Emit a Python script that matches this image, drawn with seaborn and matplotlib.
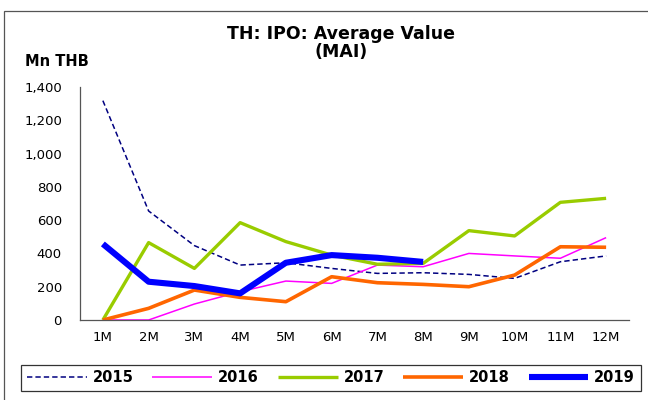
import numpy as np
import pandas as pd
import seaborn as sns
import matplotlib.pyplot as plt
from matplotlib.patches import Rectangle
from matplotlib.ticker import FuncFormatter

# Dane (Mn THB, średnia wartość IPO na MAI)
months = ["1M", "2M", "3M", "4M", "5M", "6M", "7M", "8M", "9M", "10M", "11M", "12M"]
v2015 = [1318, 655, 447, 330, 344, 310, 280, 284, 274, 250, 350, 385]
v2016 = [0, 0, 96, 170, 234, 220, 330, 320, 400, 385, 371, 495]
v2017 = [0, 465, 310, 585, 471, 390, 335, 340, 537, 505, 707, 731]
v2018 = [0, 70, 180, 136, 110, 260, 224, 214, 200, 270, 440, 437]
v2019 = [457, 230, 204, 160, 344, 390, 374, 349]

series = {"2015": v2015, "2016": v2016, "2017": v2017, "2018": v2018, "2019": v2019}
styles = {
    "2015": dict(color="#000080", lw=1.1, ls=(0, (3.5, 2))),
    "2016": dict(color="#FF00FF", lw=1.1, ls="-"),
    "2017": dict(color="#99CC00", lw=2.4, ls="-"),
    "2018": dict(color="#FF6600", lw=2.6, ls="-"),
    "2019": dict(color="#0000FF", lw=4.4, ls="-"),
}

rows = []
for year, vals in series.items():
    for i, v in enumerate(vals):
        rows.append({"year": year, "idx": i, "value": v})
df = pd.DataFrame(rows)

sns.set_style("white")
plt.rcParams["font.family"] = ["DejaVu Sans"]
plt.rcParams["text.color"] = "black"
plt.rcParams["xtick.color"] = "black"
plt.rcParams["ytick.color"] = "black"

fig = plt.figure(figsize=(6.48, 4.0), dpi=100)
ax = fig.add_axes([80 / 648, 1 - 320 / 400, (629 - 80) / 648, (320 - 87) / 400])

for year in series:
    st = styles[year]
    sub = df[df["year"] == year]
    sns.lineplot(data=sub, x="idx", y="value", ax=ax, color=st["color"],
                 linewidth=st["lw"], linestyle=st["ls"], label=year,
                 errorbar=None, solid_capstyle="butt")

ax.set_xlim(-0.5, 11.5)
ax.set_ylim(0, 1400)
ax.set_yticks(np.arange(0, 1401, 200))
ax.yaxis.set_major_formatter(FuncFormatter(lambda v, p: f"{int(v):,}"))
ax.set_xticks(np.arange(-0.5, 11.6, 1.0))
ax.set_xticklabels([])
ax.set_xticks(np.arange(12), labels=months, minor=True)
ax.tick_params(axis="x", which="major", direction="out", length=5, width=0.8, color="#555555")
ax.tick_params(axis="x", which="minor", length=0, labelsize=9.5, pad=8, labelcolor="black")
ax.tick_params(axis="y", direction="out", length=5, width=0.8, color="#555555", labelsize=9.5,
               pad=8, labelcolor="black")
ax.set_xlabel("")
ax.set_ylabel("")
for s in ["top", "right"]:
    ax.spines[s].set_visible(False)
for s in ["left", "bottom"]:
    ax.spines[s].set_color("#555555")
    ax.spines[s].set_linewidth(0.9)

# Tytuł i jednostka
fig.text(0.527, 1 - 43 / 400, "TH: IPO: Average Value\n(MAI)", ha="center", va="center",
         fontsize=12.5, fontweight="bold", linespacing=1.05, color="black")
fig.text(25 / 648, 1 - 62 / 400, "Mn THB", ha="left", va="center", fontsize=10.5,
         fontweight="bold", color="black")

# Legenda
handles, labels = ax.get_legend_handles_labels()
ax.legend_.remove()
leg = fig.legend(handles, labels, loc="center", bbox_to_anchor=(331 / 648, 1 - 378 / 400),
                 ncol=5, frameon=True, fancybox=False, handlelength=4.1, columnspacing=1.3,
                 handletextpad=0.4, borderpad=0.4, labelcolor="black",
                 prop={"weight": "bold", "size": 10.5})
leg.get_frame().set_edgecolor("black")
leg.get_frame().set_linewidth(0.9)

# Ramka wykresu
fig.patches.append(Rectangle((4 / 648, -0.1), 1.2, 1 - 11 / 400 + 0.1, transform=fig.transFigure,
                             fill=False, edgecolor="#555555", linewidth=0.9, zorder=0))

plt.savefig("out.png", dpi=100)
plt.close()
